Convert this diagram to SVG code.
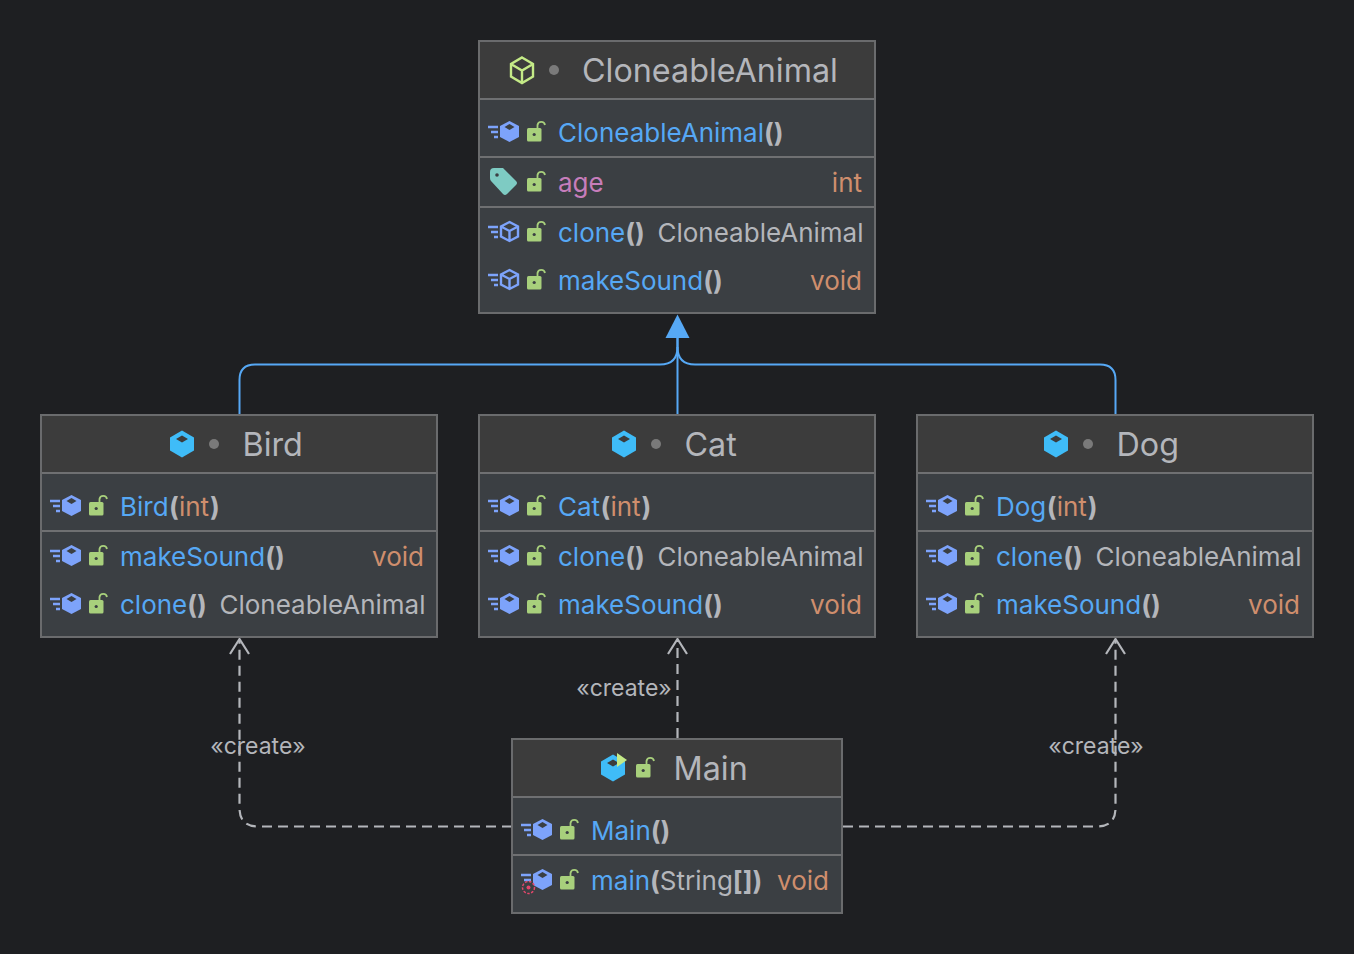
<svg xmlns="http://www.w3.org/2000/svg" width="1354" height="954" viewBox="0 0 1354 954">
<style>
text{font-family:Inter,"Liberation Sans",sans-serif;font-size:26px;fill:#b4b6bb}
.t{font-size:32.300px;fill:#b4b6bb}
.b{fill:#56a8f5}
.o{fill:#cf8e6d}
.p{fill:#c77dbb}
.k{font-weight:700}
.l{font-size:23px;fill:#b4b6bb}
.box{fill:#3b3f43;stroke:#6a6b6d;stroke-width:2}
.head{fill:#3c3c3c}
.div{stroke:#6f7072;stroke-width:2;fill:none}
.inh{fill:none;stroke:#56a8f5;stroke-width:2}
.dep{fill:none;stroke:#b4b6bb;stroke-width:2.200;stroke-dasharray:10 6}
.arr{fill:none;stroke:#b4b6bb;stroke-width:2.200}
</style>
<defs>
<g id="lock"><rect x="39" y="-4" width="14.500" height="13.500" rx="1.500" fill="#a8d07c"/><path d="M49.500-4V-7a3.800 3.800 0 0 1 7.500 0" fill="none" stroke="#a8d07c" stroke-width="1.800"/><circle cx="46.200" cy="2.500" r="1.600" fill="#3b3f43"/></g>
<g id="speed"><path d="M0-5H10M3 0H10M6 5H10" stroke="#7da3fb" stroke-width="2.400" fill="none"/></g>
<g id="mf"><use href="#speed"/><path d="M21.500-11 31-6V5L21.500 10 12 5V-6Z" fill="#7da3fb"/><path d="M21.500-8 26.500-5 21.500-2 16.500-5Z" fill="#3b3f43"/><use href="#lock"/></g>
<g id="mo"><use href="#speed"/><path d="M21.500-10 30-5.500V4.500L21.500 9 13 4.500V-5.500ZM13-5.500 21.500-1 30-5.500M21.500-1V9" fill="none" stroke="#7da3fb" stroke-width="2.400"/><use href="#lock"/></g>
<g id="cube"><path d="M12-13 24-6V7L12 14 0 7V-6Z" fill="#3fbcf8"/><path d="M12-8 18-4.500 12-1 6-4.500Z" fill="#3c3c3c"/></g>
</defs>
<rect width="1354" height="954" fill="#1e1f22"/>
<g id="connectors">
<path class="inh" d="M239.500 414V380Q239.500 364.500 255 364.500H660Q677.500 364.500 677.500 347V335"/>
<path class="inh" d="M1115.500 414V380Q1115.500 364.500 1100 364.500H695Q677.500 364.500 677.500 347"/>
<path class="inh" d="M677.500 414V335"/>
<path d="M677.500 314.500 689.500 338H665.500Z" fill="#56a8f5"/>
<path class="dep" d="M512 826.500H258Q239.500 826.500 239.500 808V640"/>
<path class="arr" d="M230 654 239.500 639 249 654"/>
<path class="dep" d="M677.500 738V640"/>
<path class="arr" d="M668 654 677.500 639 687 654"/>
<path class="dep" d="M843 826.500H1097Q1115.500 826.500 1115.500 808V640"/>
<path class="arr" d="M1106 654 1115.500 639 1125 654"/>
<text class="l" x="258" y="754" text-anchor="middle">«create»</text>
<text class="l" x="624" y="696" text-anchor="middle">«create»</text>
<text class="l" x="1096" y="754" text-anchor="middle">«create»</text>
</g>
<g id="node-cloneable">
<rect class="box" x="479" y="41" width="396" height="272"/>
<rect class="head" x="480" y="42" width="394" height="57"/>
<path class="div" d="M480 99H874M480 157H874M480 207H874"/>
<path d="M522 57.500 533 64V76.500L522 83 511 76.500V64ZM511 64 522 70.500 533 64M522 70.500V83" fill="none" stroke="#c4ea87" stroke-width="2.400"/>
<circle cx="554" cy="70" r="5" fill="#7a7a7a"/>
<text class="t" x="582" y="82">CloneableAnimal</text>
<use href="#mf" x="488" y="132"/>
<text x="558" y="142"><tspan class="b">CloneableAnimal</tspan><tspan class="k">()</tspan></text>
<path d="M490 172Q490 168 494 168H503L516 181Q518 183 516 185L507 194Q505 196 503 194L491 181Q490 180 490 178Z" fill="#7ecbc3"/>
<circle cx="497" cy="175" r="1.800" fill="#3b3f43"/>
<use href="#lock" x="488" y="182"/>
<text class="p" x="558" y="192">age</text>
<text class="o" x="862" y="192" text-anchor="end">int</text>
<use href="#mo" x="488" y="232"/>
<text x="558" y="242"><tspan class="b">clone</tspan><tspan class="k">()</tspan></text>
<text x="863.500" y="242" text-anchor="end">CloneableAnimal</text>
<use href="#mo" x="488" y="280"/>
<text x="558" y="290"><tspan class="b">makeSound</tspan><tspan class="k">()</tspan></text>
<text class="o" x="862" y="290" text-anchor="end">void</text>
</g>
<g id="node-bird">
<rect class="box" x="41" y="415" width="396" height="222"/>
<rect class="head" x="42" y="416" width="394" height="57"/>
<path class="div" d="M42 473H436M42 531H436"/>
<use href="#cube" x="170" y="443.500"/>
<circle cx="214" cy="444" r="5" fill="#7a7a7a"/>
<text class="t" x="242.500" y="456">Bird</text>
<use href="#mf" x="50" y="506"/>
<text x="120" y="516"><tspan class="b">Bird</tspan><tspan class="k" dx="0.500">(</tspan><tspan class="o">int</tspan><tspan class="k" dx="1">)</tspan></text>
<use href="#mf" x="50" y="556"/>
<text x="120" y="566"><tspan class="b">makeSound</tspan><tspan class="k">()</tspan></text>
<text class="o" x="424" y="566" text-anchor="end">void</text>
<use href="#mf" x="50" y="604"/>
<text x="120" y="614"><tspan class="b">clone</tspan><tspan class="k">()</tspan></text>
<text x="425.500" y="614" text-anchor="end">CloneableAnimal</text>
</g>
<g id="node-cat">
<rect class="box" x="479" y="415" width="396" height="222"/>
<rect class="head" x="480" y="416" width="394" height="57"/>
<path class="div" d="M480 473H874M480 531H874"/>
<use href="#cube" x="612" y="443.500"/>
<circle cx="656" cy="444" r="5" fill="#7a7a7a"/>
<text class="t" x="684.500" y="456">Cat</text>
<use href="#mf" x="488" y="506"/>
<text x="558" y="516"><tspan class="b">Cat</tspan><tspan class="k" dx="0.500">(</tspan><tspan class="o">int</tspan><tspan class="k" dx="1">)</tspan></text>
<use href="#mf" x="488" y="556"/>
<text x="558" y="566"><tspan class="b">clone</tspan><tspan class="k">()</tspan></text>
<text x="863.500" y="566" text-anchor="end">CloneableAnimal</text>
<use href="#mf" x="488" y="604"/>
<text x="558" y="614"><tspan class="b">makeSound</tspan><tspan class="k">()</tspan></text>
<text class="o" x="862" y="614" text-anchor="end">void</text>
</g>
<g id="node-dog">
<rect class="box" x="917" y="415" width="396" height="222"/>
<rect class="head" x="918" y="416" width="394" height="57"/>
<path class="div" d="M918 473H1312M918 531H1312"/>
<use href="#cube" x="1044" y="443.500"/>
<circle cx="1088" cy="444" r="5" fill="#7a7a7a"/>
<text class="t" x="1116.500" y="456">Dog</text>
<use href="#mf" x="926" y="506"/>
<text x="996" y="516"><tspan class="b">Dog</tspan><tspan class="k" dx="0.500">(</tspan><tspan class="o">int</tspan><tspan class="k" dx="1">)</tspan></text>
<use href="#mf" x="926" y="556"/>
<text x="996" y="566"><tspan class="b">clone</tspan><tspan class="k">()</tspan></text>
<text x="1301.500" y="566" text-anchor="end">CloneableAnimal</text>
<use href="#mf" x="926" y="604"/>
<text x="996" y="614"><tspan class="b">makeSound</tspan><tspan class="k">()</tspan></text>
<text class="o" x="1300" y="614" text-anchor="end">void</text>
</g>
<g id="node-main">
<rect class="box" x="512" y="739" width="330" height="174"/>
<rect class="head" x="513" y="740" width="328" height="57"/>
<path class="div" d="M513 797H841M513 855H841"/>
<use href="#cube" x="601" y="767.500"/>
<path d="M617 753 627 760 617 767Z" fill="#c4ea87"/>
<use href="#lock" x="597" y="768"/>
<text class="t" x="673.500" y="780">Main</text>
<use href="#mf" x="521" y="830"/>
<text x="591" y="840"><tspan class="b">Main</tspan><tspan class="k">()</tspan></text>
<use href="#mf" x="521" y="880"/>
<circle cx="528.500" cy="887.500" r="6" fill="#3b3f43" stroke="#e5476b" stroke-width="1.500" stroke-dasharray="2.500 1.500"/>
<circle cx="528.500" cy="887.500" r="2" fill="#e5476b"/>
<text x="591" y="890"><tspan class="b">main</tspan><tspan class="k">(</tspan>String<tspan class="k">[])</tspan></text>
<text class="o" x="829" y="890" text-anchor="end">void</text>
</g>
</svg>
